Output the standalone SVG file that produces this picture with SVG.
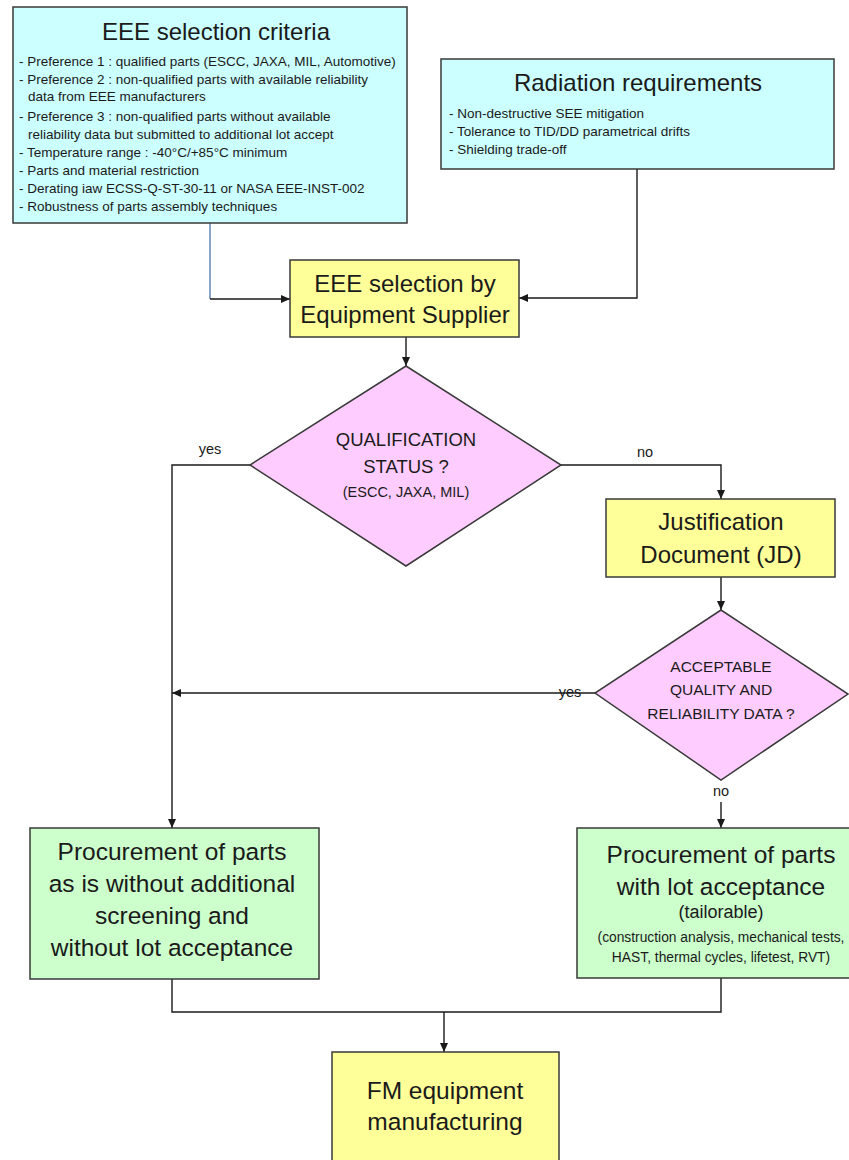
<svg xmlns="http://www.w3.org/2000/svg" width="849" height="1160" viewBox="0 0 849 1160">
<style>
text{font-family:"Liberation Sans",Arial,sans-serif;fill:#1a1a1a}
.box{stroke:#3a3a3a;stroke-width:1.5}
.cy{fill:#ccffff}.ye{fill:#ffff99}.pk{fill:#ffccff}.gr{fill:#ccffcc}
.t{font-size:24px;text-anchor:middle}
.b{font-size:13.5px}
.d{font-size:18.5px;text-anchor:middle}
.d2{font-size:15.5px;text-anchor:middle}
.lbl{font-size:14.5px;text-anchor:middle}
.c{fill:none;stroke:#1a1a1a;stroke-width:1.4}
</style>
<defs>
<marker id="ah" markerWidth="9" markerHeight="8" refX="9" refY="4" orient="auto" markerUnits="userSpaceOnUse">
<path d="M0,0 L9,4 L0,8 z" fill="#1a1a1a"/>
</marker>
</defs>
<rect width="849" height="1160" fill="#ffffff"/>
<g id="connectors">
<path class="c" d="M210,223 V299" style="stroke:#5b7fae"/>
<path class="c" d="M210,299 H290" marker-end="url(#ah)"/>
<path class="c" d="M637,169 V298 H519" marker-end="url(#ah)"/>
<path class="c" d="M406,337 V366" marker-end="url(#ah)"/>
<path class="c" d="M250,465 H172 V828" marker-end="url(#ah)"/>
<path class="c" d="M561,465 H721 V499" marker-end="url(#ah)"/>
<path class="c" d="M721,577 V610" marker-end="url(#ah)"/>
<path class="c" d="M595,693 H172" marker-end="url(#ah)"/>
<path class="c" d="M721,802 V828" marker-end="url(#ah)"/>
<path class="c" d="M172,979 V1012 H721 V978"/>
<path class="c" d="M444,1012 V1052" marker-end="url(#ah)"/>
<text class="lbl" x="210" y="454">yes</text>
<text class="lbl" x="645" y="457">no</text>
<text class="lbl" x="570" y="697">yes</text>
<text class="lbl" x="721" y="796">no</text>
</g>
<g id="criteria">
<rect class="box cy" x="13" y="7" width="394" height="216"/>
<text class="t" x="216" y="40">EEE selection criteria</text>
<text class="b" x="19" y="66">- Preference 1 : qualified parts (ESCC, JAXA, MIL, Automotive)</text>
<text class="b" x="19" y="84">- Preference 2 : non-qualified parts with available reliability</text>
<text class="b" x="28" y="101">data from EEE manufacturers</text>
<text class="b" x="19" y="121">- Preference 3 : non-qualified parts without available</text>
<text class="b" x="28" y="139">reliability data but submitted to additional lot accept</text>
<text class="b" x="19" y="157">- Temperature range : -40°C/+85°C minimum</text>
<text class="b" x="19" y="175">- Parts and material restriction</text>
<text class="b" x="19" y="193">- Derating iaw ECSS-Q-ST-30-11 or NASA EEE-INST-002</text>
<text class="b" x="19" y="211">- Robustness of parts assembly techniques</text>
</g>
<g id="radiation">
<rect class="box cy" x="441" y="59" width="393" height="110"/>
<text class="t" x="638" y="91">Radiation requirements</text>
<text class="b" x="449" y="118">- Non-destructive SEE mitigation</text>
<text class="b" x="449" y="136">- Tolerance to TID/DD parametrical drifts</text>
<text class="b" x="449" y="154">- Shielding trade-off</text>
</g>
<g id="supplier">
<rect class="box ye" x="290" y="260" width="229" height="77"/>
<text class="t" x="405" y="292">EEE selection by</text>
<text class="t" x="405" y="323">Equipment Supplier</text>
</g>
<g id="qualification">
<polygon class="box pk" points="406,366 561,465 406,566 250,465"/>
<text class="d" x="406" y="446">QUALIFICATION</text>
<text class="d" x="406" y="473">STATUS ?</text>
<text class="d2" x="406" y="497" style="font-size:14.5px">(ESCC, JAXA, MIL)</text>
</g>
<g id="jd">
<rect class="box ye" x="606" y="499" width="229" height="78"/>
<text class="t" x="721" y="530">Justification</text>
<text class="t" x="721" y="563">Document (JD)</text>
</g>
<g id="acceptable">
<polygon class="box pk" points="721,610 848,694 721,780 595,693"/>
<text class="d2" x="721" y="672">ACCEPTABLE</text>
<text class="d2" x="721" y="695">QUALITY AND</text>
<text class="d2" x="721" y="719">RELIABILITY DATA ?</text>
</g>
<g id="proc-asis">
<rect class="box gr" x="30" y="828" width="289" height="151"/>
<text class="t" x="172" y="860" style="font-size:24.5px">Procurement of parts</text>
<text class="t" x="172" y="892" style="font-size:24.5px">as is without additional</text>
<text class="t" x="172" y="924" style="font-size:24.5px">screening and</text>
<text class="t" x="172" y="956" style="font-size:24.5px">without lot acceptance</text>
</g>
<g id="proc-lot">
<rect class="box gr" x="577" y="828" width="290" height="150"/>
<text class="t" x="721" y="863" style="font-size:24.5px">Procurement of parts</text>
<text class="t" x="721" y="895" style="font-size:24.5px">with lot acceptance</text>
<text class="t" x="721" y="918" style="font-size:18px">(tailorable)</text>
<text class="t" x="721" y="942" style="font-size:13.8px">(construction analysis, mechanical tests,</text>
<text class="t" x="721" y="962" style="font-size:13.8px">HAST, thermal cycles, lifetest, RVT)</text>
</g>
<g id="fm">
<rect class="box ye" x="332" y="1052" width="227" height="125"/>
<text class="t" x="445" y="1099" style="font-size:24.5px">FM equipment</text>
<text class="t" x="445" y="1130" style="font-size:24.5px">manufacturing</text>
</g>
</svg>
